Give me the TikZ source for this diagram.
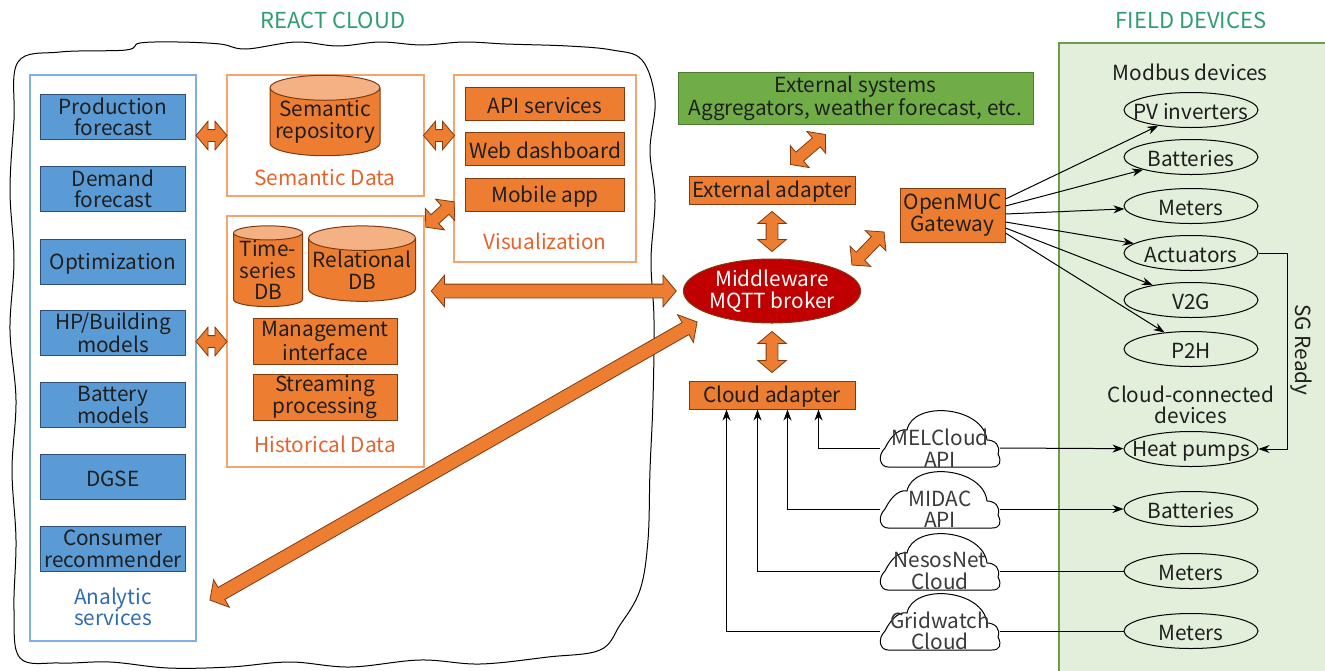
\documentclass[tikz,border=0pt]{standalone}
\usepackage{fontspec}
\setmainfont{Noto Sans CJK JP}
\usetikzlibrary{shapes.geometric,shapes.arrows,arrows.meta,calc}

\definecolor{svcblue}{HTML}{5B9BD5}
\definecolor{svcblueline}{HTML}{2F4F7F}
\definecolor{comporange}{HTML}{ED7D31}
\definecolor{comporangeline}{HTML}{7F3A10}
\definecolor{dbtop}{HTML}{F4B183}
\definecolor{frameorange}{HTML}{F4A46C}
\definecolor{frameblue}{HTML}{7FB0E0}
\definecolor{labelorange}{HTML}{E5632B}
\definecolor{labelblue}{HTML}{2E6CB4}
\definecolor{titlegreen}{HTML}{2F9E6E}
\definecolor{extgreen}{HTML}{70AD47}
\definecolor{extgreenline}{HTML}{4E7A32}
\definecolor{fieldfill}{HTML}{E2EFDA}
\definecolor{fieldline}{HTML}{6E9B50}
\definecolor{brokerred}{HTML}{C00000}
\definecolor{cloudtext}{HTML}{3A3A3A}

\tikzset{
  txt/.style={font=\fontsize{20.8}{21.5}\selectfont, align=center, text=black!88,
    execute at begin node={\rule{0pt}{19pt}}},
  title/.style={font=\fontsize{22}{24}\selectfont, text=titlegreen},
  frame/.style={draw=#1, line width=1.2pt, inner sep=0},
  svc/.style={txt, draw=svcblueline, fill=svcblue, line width=1.2pt,
    minimum width=145, minimum height=45, inner sep=0},
  comp/.style={txt, draw=comporangeline, fill=comporange, line width=1pt, inner sep=0},
  db/.style={txt, cylinder, shape border rotate=90, aspect=0.25,
    draw=comporangeline, line width=1pt, cylinder uses custom fill,
    cylinder body fill=comporange, cylinder end fill=dbtop, inner sep=0},
  dev/.style={txt, ellipse, draw, line width=1pt, minimum width=134,
    minimum height=35, inner xsep=-14pt, inner ysep=-3pt},
  api/.style={txt, text=cloudtext, minimum width=120, minimum height=40, inner sep=0},
  fat/.style={double arrow, draw=comporangeline, fill=comporange, line width=0.8pt,
    inner xsep=0, inner ysep=5.5, double arrow head extend=8.5,
    double arrow tip angle=100, sloped, anchor=center},
  bigfat/.style={fat, inner ysep=6.5, double arrow head extend=9},
  conn/.style={line width=1pt, -{Stealth[length=11pt,width=8pt]}},
  wire/.style={line width=1pt},
}

\begin{document}
\begin{tikzpicture}[x=1pt,y=-1pt]
  \useasboundingbox (0,0) rectangle (1325,670);

  % react cloud outline
  \draw[line width=1pt] plot[smooth cycle, tension=0.6] coordinates {
    (18,62) (60,52) (126,50) (140,43) (178,42) (220,44) (246,49) (296,42)
    (338,46) (380,42) (422,45) (464,42) (506,44) (568,46) (612,50) (642,60)
    (655,100) (650,150) (655,200) (651,260) (654,320) (653,400) (650,470)
    (648,540) (640,590) (620,625) (600,650) (548,657) (480,664) (420,660)
    (350,667) (290,662) (230,667) (168,668) (110,662) (60,663) (20,658)
    (14,610) (16,540) (12,470) (16,400) (10,330) (14,260) (10,190) (14,120)};
  \node[title] (reacttitle) at (333,20) {REACT CLOUD};

  % field devices panel
  \draw[fieldline, fill=fieldfill, line width=1.2pt] (1059,43) rectangle (1335,680);
  \node[title] (fieldtitle) at (1191,20) {FIELD DEVICES};

  % analytic services
  \node[frame=frameblue, minimum width=166, minimum height=566] (ana) at (113,358) {};
  \foreach \n/\y/\t in {prod/117/{Production\\forecast}, dem/189/{Demand\\forecast},
      opt/262/{Optimization}, hpb/333/{HP/Building\\models}, batm/405/{Battery\\models},
      dgse/477/{DGSE}, cons/549/{Consumer\\recommender}}
    \node[svc] (\n) at (113,\y) {\t};
  \node[txt, text=labelblue] (analabel) at (113,607) {Analytic\\services};

  % semantic data
  \node[frame=frameorange, minimum width=197, minimum height=121] (sem) at (325.5,135.5) {};
  \node[db, minimum width=110, minimum height=75] (semrepo) at (325,122) {Semantic\\repository};
  \node[txt, text=labelorange] (semlabel) at (325,176) {Semantic Data};

  % visualization
  \node[frame=frameorange, minimum width=182, minimum height=187] (vis) at (545,168.5) {};
  \foreach \n/\y/\t in {apisvc/104/API services, webdash/149/Web dashboard, mobile/195/Mobile app}
    \node[comp, minimum width=159, minimum height=33] (\n) at (545,\y) {\t};
  \node[txt, text=labelorange] (vislabel) at (545,240) {Visualization};

  % historical data
  \node[frame=frameorange, minimum width=197, minimum height=251] (hist) at (325.5,341.5) {};
  \node[db, minimum width=69, minimum height=76] (tsdb) at (268,270) {Time-\\series\\DB};
  \node[db, minimum width=107, minimum height=75] (reldb) at (362,270) {Relational\\DB};
  \node[comp, minimum width=144, minimum height=46] (mgmt) at (325,341) {Management\\interface};
  \node[comp, minimum width=144, minimum height=46] (stream) at (325,397) {Streaming\\processing};
  \node[txt, text=labelorange] (histlabel) at (325,443) {Historical Data};

  % middle column
  \node[txt, draw=extgreenline, fill=extgreen, line width=1pt, minimum width=355,
    minimum height=52, inner sep=0] (ext) at (855.5,98) {External systems\\Aggregators, weather forecast, etc.};
  \node[comp, minimum width=166, minimum height=28] (extad) at (772,190) {External adapter};
  \node[txt, ellipse, draw=comporangeline, fill=brokerred, text=white, line width=1pt,
    minimum width=172, minimum height=64, inner sep=0] (broker) at (772,291) {Middleware\\MQTT broker};
  \node[comp, minimum width=166, minimum height=28] (cad) at (772,395) {Cloud adapter};
  \node[comp, minimum width=105, minimum height=54] (gw) at (952.5,215) {OpenMUC\\Gateway};

  % devices
  \node[txt] (modbus) at (1190,71) {Modbus devices};
  \foreach \n/\y/\t in {pv/110/PV inverters, bat/157/Batteries, met/206/Meters,
      act/253/Actuators, vtg/300/V2G, pth/349/P2H, hp/449/Heat pumps,
      batc/509/Batteries, metn/571/Meters, metg/631/Meters}
    \node[dev] (\n) at (1191,\y) {\t};
  \node[txt] (cloudconn) at (1191,405) {Cloud-connected\\devices};
  \node[txt, rotate=-90] (sgready) at (1303,350) {SG Ready};

  % cloud services
  \foreach \n/\y/\t in {mel/448/{MELCloud\\API}, midac/509/{MIDAC\\API},
      nesos/571/{NesosNet\\Cloud}, grid/631/{Gridwatch\\Cloud}} {
    \draw[line width=1pt, fill=white] ([shift={(-52,19)}]940,\y)
      -- ++(104,0)
      .. controls ++(8,0) and ++(4,8) .. ([shift={(58,6)}]940,\y)
      .. controls ++(3,-8) and ++(8,0) .. ([shift={(47,-8)}]940,\y)
      .. controls ++(-4,-34) and ++(6,-30) .. ([shift={(-33,-18)}]940,\y)
      .. controls ++(-10,-2) and ++(4,-8) .. ([shift={(-55,0)}]940,\y)
      .. controls ++(-8,8) and ++(-8,0) .. cycle;
    \node[api] (\n) at (940,\y) {\t};
  }

  % gateway to modbus devices
  \draw[conn] ([yshift=16]gw.east) -- (pv);
  \draw[conn] ([yshift=9]gw.east) -- (bat);
  \draw[conn] ([yshift=1]gw.east) -- (met);
  \draw[conn] ([yshift=-7]gw.east) -- (act);
  \draw[conn] ([yshift=-13]gw.east) -- (vtg);
  \draw[conn] ([yshift=-18]gw.east) -- (pth);
  \draw[conn] (act.east) -- ++(29,0) |- (hp.east);

  % cloud services to cloud adapter and devices
  \draw[conn] (mel.west) -| ([xshift=130]cad.south west);
  \draw[conn] (midac.west) -| ([xshift=99]cad.south west);
  \draw[conn] (nesos.west) -| ([xshift=69]cad.south west);
  \draw[conn] (grid.west) -| ([xshift=38]cad.south west);
  \draw[conn] (mel.east) -- (hp);
  \draw[conn] (midac.east) -- (batc);
  \draw[wire] (nesos.east) -- (metn);
  \draw[wire] (grid.east) -- (metg);

  % fat data flows
  \coordinate (hvtail) at (426,227);
  \coordinate (hvhead) at (454,202);
  \coordinate (extail) at (790,165);
  \coordinate (exhead) at (826,134);
  \coordinate (gwtail) at (852,265);
  \coordinate (gwhead) at (884,232);
  \coordinate (bigtail) at (210,600);
  \coordinate (bighead) at (697,322);
  \path (ana.east |- sem) -- node[fat, minimum height=31] {} (sem.west);
  \path (ana.east |- hist) -- node[fat, minimum height=31] {} (hist.west);
  \path (sem.east) -- node[fat, minimum height=31] {} (sem.east -| vis.west);
  \path (hvtail) -- node[fat, minimum height=38] {} (hvhead);
  \path (extail) -- node[fat, minimum height=46] {} (exhead);
  \path (extad.south) -- node[fat, minimum height=40] {} (broker.north);
  \path (gwtail) -- node[fat, minimum height=46] {} (gwhead);
  \path (broker.south) -- node[fat, minimum height=41] {} (cad.north);
  \path (hist.east |- broker) -- node[bigfat, minimum height=245] {} (broker.west);
  \path (bigtail) -- node[bigfat, minimum height=561] {} (bighead);
\end{tikzpicture}
\end{document}
